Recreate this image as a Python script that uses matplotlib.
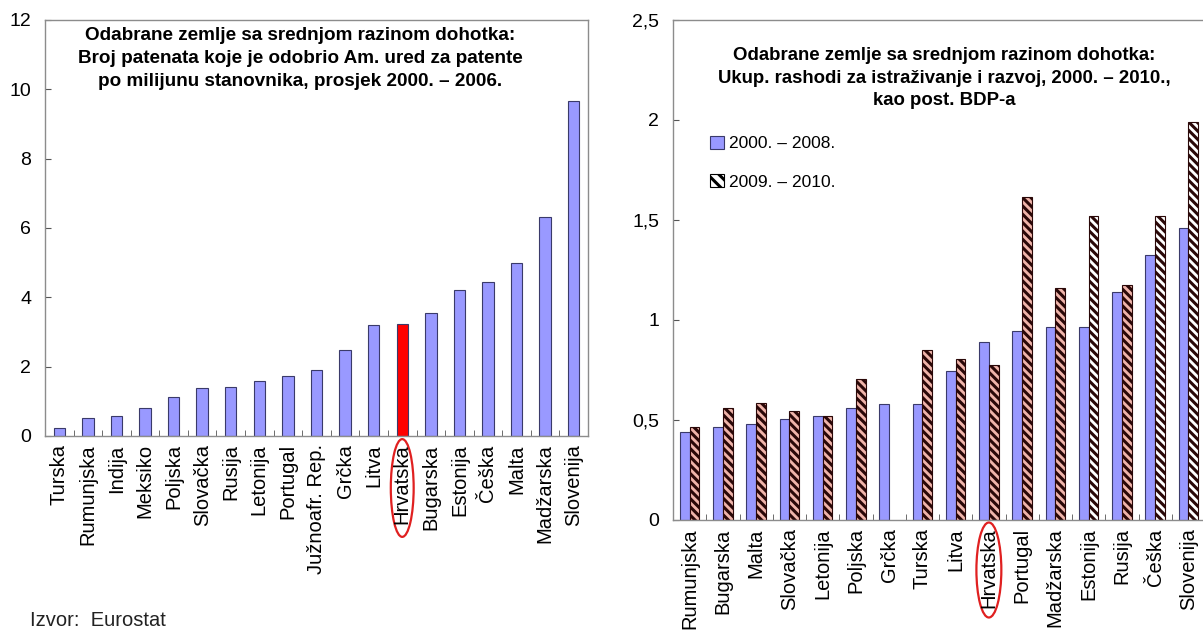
import numpy as np
import matplotlib
matplotlib.use("Agg")
import matplotlib.pyplot as plt
from matplotlib.patches import Ellipse, Patch
from matplotlib import transforms
from matplotlib.ticker import FixedLocator, FuncFormatter

plt.rcParams['font.family'] = ['Liberation Sans', 'DejaVu Sans']
plt.rcParams['hatch.linewidth'] = 2.2

# ---- Left chart data ----
left_countries = ["Turska", "Rumunjska", "Indija", "Meksiko", "Poljska", "Slovačka",
                  "Rusija", "Letonija", "Portugal", "Južnoafr. Rep.", "Grčka", "Litva",
                  "Hrvatska", "Bugarska", "Estonija", "Češka", "Malta", "Madžarska",
                  "Slovenija"]
left_values = [0.24, 0.53, 0.59, 0.81, 1.12, 1.39, 1.41, 1.58, 1.72, 1.91, 2.47, 3.2,
               3.23, 3.56, 4.22, 4.45, 5.0, 6.31, 9.65]
left_title = ("Odabrane zemlje sa srednjom razinom dohotka:\n"
              "Broj patenata koje je odobrio Am. ured za patente\n"
              "po milijunu stanovnika, prosjek 2000. – 2006.")

# ---- Right chart data ----
right_countries = ["Rumunjska", "Bugarska", "Malta", "Slovačka", "Letonija", "Poljska",
                   "Grčka", "Turska", "Litva", "Hrvatska", "Portugal", "Madžarska",
                   "Estonija", "Rusija", "Češka", "Slovenija"]
rd_2000_2008 = [0.44, 0.465, 0.48, 0.507, 0.52, 0.56, 0.58, 0.58, 0.743, 0.892, 0.943,
                0.963, 0.963, 1.14, 1.326, 1.458]
rd_2009_2010 = [0.465, 0.56, 0.585, 0.545, 0.52, 0.706, None, 0.85, 0.807, 0.777, 1.613,
                1.16, 1.519, 1.174, 1.519, 1.988]
right_title = ("Odabrane zemlje sa srednjom razinom dohotka:\n"
               "Ukup. rashodi za istraživanje i razvoj, 2000. – 2010.,\n"
               "kao post. BDP-a")
legend_labels = ["2000. – 2008.", "2009. – 2010."]
source_text = "Izvor:  Eurostat"

BLUE = '#9999ff'
BLUE_EDGE = '#3a3a6a'
SPINE = '#8c8c8c'
HATCH_DARK = '#2a0808'
PINK = '#f0b4aa'
white_hatch = {"Estonija", "Češka", "Slovenija"}

fig = plt.figure(figsize=(12.03, 6.32), dpi=100)
W, H = 1203, 632

def style_axes(ax, n):
    for s in ax.spines.values():
        s.set_color(SPINE)
        s.set_linewidth(1.0)
    ax.set_xlim(-0.5, n - 0.5)
    ax.xaxis.set_major_locator(FixedLocator(np.arange(n)))
    ax.xaxis.set_minor_locator(FixedLocator(np.arange(n - 1) + 0.5))
    ax.tick_params(axis='x', which='major', length=0, pad=6, labelsize=14.5, rotation=90)
    ax.tick_params(axis='x', which='minor', length=4, direction='in', color='#555555')
    ax.tick_params(axis='y', which='major', length=4, direction='in', color='#555555',
                   labelsize=14, pad=10)

# ---- Left axes ----
axL = fig.add_axes([45 / W, (H - 436) / H, (588 - 45) / W, (436 - 20) / H])
xL = np.arange(len(left_countries))
colorsL = ['#ff0000' if c == "Hrvatska" else BLUE for c in left_countries]
axL.bar(xL, left_values, width=0.4, color=colorsL, edgecolor=BLUE_EDGE, linewidth=0.8)
style_axes(axL, len(left_countries))
axL.set_ylim(0, 12)
axL.set_yticks(np.arange(0, 13, 2))
axL.set_xticks(xL)
axL.set_xticklabels(left_countries)
axL.text(0.47, 0.982, left_title, transform=axL.transAxes, ha='center', va='top',
         fontsize=13.6, fontweight='bold', linespacing=1.45)
idxL = left_countries.index("Hrvatska")
trL = transforms.blended_transform_factory(axL.transData, axL.transAxes)
axL.add_patch(Ellipse((idxL, -0.125), 0.8, 0.235, transform=trL, fill=False,
                      edgecolor='#e02020', linewidth=1.6, clip_on=False))

# ---- Right axes ----
axR = fig.add_axes([673 / W, (H - 520) / H, (1205 - 673) / W, 500 / H])
xR = np.arange(len(right_countries))
bw = 0.29
axR.bar(xR - bw / 2, rd_2000_2008, width=bw, color=BLUE, edgecolor=BLUE_EDGE,
        linewidth=0.8)
for i, (c, v) in enumerate(zip(right_countries, rd_2009_2010)):
    if v is None:
        continue
    fc = 'white' if c in white_hatch else PINK
    axR.bar(xR[i] + bw / 2, v, width=bw, color=fc, edgecolor=HATCH_DARK,
            hatch='\\\\\\\\', linewidth=0.8)
style_axes(axR, len(right_countries))
axR.set_ylim(0, 2.5)
axR.set_yticks(np.arange(0, 2.51, 0.5))
axR.yaxis.set_major_formatter(FuncFormatter(lambda v, p: f"{v:g}".replace('.', ',')))
axR.set_xticks(xR)
axR.set_xticklabels(right_countries)
axR.spines['right'].set_visible(False)
axR.text(0.51, 0.945, right_title, transform=axR.transAxes, ha='center', va='top',
         fontsize=13.4, fontweight='bold', linespacing=1.4)
handles = [Patch(facecolor=BLUE, edgecolor=BLUE_EDGE, linewidth=0.8),
           Patch(facecolor='white', edgecolor='black', hatch='\\\\\\', linewidth=0.8)]
axR.legend(handles, legend_labels, loc='upper left', bbox_to_anchor=(0.04, 0.80),
           frameon=False, fontsize=12.5, handlelength=0.8, handleheight=0.8,
           handletextpad=0.3, labelspacing=1.3)
idxR = right_countries.index("Hrvatska")
trR = transforms.blended_transform_factory(axR.transData, axR.transAxes)
axR.add_patch(Ellipse((idxR, -0.1), 0.75, 0.19, transform=trR, fill=False,
                      edgecolor='#e02020', linewidth=1.6, clip_on=False))

fig.text(30 / W, (H - 621) / H, source_text, fontsize=14.5, ha='left', va='center',
         color='#222222')

fig.savefig("out.png", dpi=100)
